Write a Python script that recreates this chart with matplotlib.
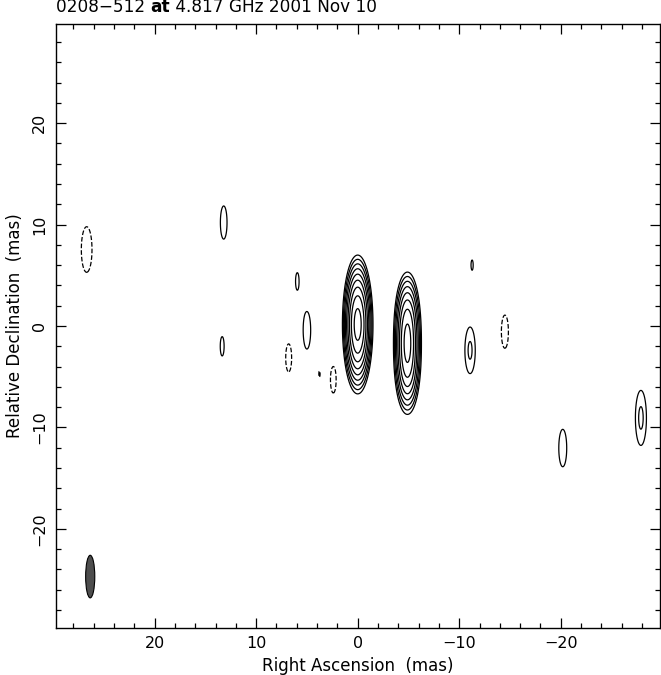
import numpy as np
import matplotlib
matplotlib.use("Agg")
import matplotlib.pyplot as plt
from matplotlib.patches import Ellipse
from matplotlib.ticker import MultipleLocator

# ---- model components (RA mas, Dec mas, peak in units of lowest contour, sigma_x, sigma_y)
comp_ra   = [0.0, -4.9, -4.9, -4.9, 13.2, 13.35, 5.95, 5.0, 26.7, 6.8, 3.77, 2.4, -11.27, -14.5, -11.07, -20.2, -27.9]
comp_dec  = [0.15, 0.0, -1.7, -3.4, 10.2, -2.0, 4.4, -0.43, 7.54, -3.14, -4.72, -5.3, 6.0, -0.56, -2.4, -12.03, -9.06]
comp_flux = [347.0, 75.0, 75.0, 75.0, 1.51, 1.15, 1.12, 1.69, -2.18, -1.34, -1.012, -1.3, 1.04, -1.51, 2.25, 1.69, 2.3]
comp_sx   = [0.44, 0.43, 0.43, 0.43, 0.36, 0.36, 0.36, 0.36, 0.42, 0.38, 0.38, 0.38, 0.38, 0.38, 0.40, 0.38, 0.42]
comp_sy   = [2.0, 1.8, 1.8, 1.8, 1.8, 1.8, 1.8, 1.8, 1.8, 1.8, 1.8, 1.8, 1.8, 1.8, 1.8, 1.8, 2.1]

contour_levels = [-1, 1, 2, 4, 8, 16, 32, 64, 128, 256]

beam_ra, beam_dec = 26.35, -24.7
beam_minor, beam_major, beam_pa = 0.9, 4.2, 0.0

title_parts = ["0208\u2212512 ", "at", " 4.817 GHz 2001 Nov 10"]
xlabel = "Right Ascension  (mas)"
ylabel = "Relative Declination  (mas)"

# ---- build image
gx = np.arange(-30.0, 30.0, 0.04)
gy = np.arange(-30.0, 30.0, 0.04)
X, Y = np.meshgrid(gx, gy)
Z = np.zeros_like(X)
for ra, dec, f, sx, sy in zip(comp_ra, comp_dec, comp_flux, comp_sx, comp_sy):
    Z += f * np.exp(-((X - ra) ** 2 / (2 * sx ** 2) + (Y - dec) ** 2 / (2 * sy ** 2)))

fig = plt.figure(figsize=(6.61, 6.75), dpi=100)
W, H = 661, 675
left, right, top, bottom = 55.7, 660, 24, 628
ax = fig.add_axes([left / W, (H - bottom) / H, (right - left) / W, (bottom - top) / H])

styles = ['dashed' if l < 0 else 'solid' for l in contour_levels]
ax.contour(X, Y, Z, levels=contour_levels, colors='black', linewidths=0.9,
           linestyles=styles)

ax.add_patch(Ellipse((beam_ra, beam_dec), width=beam_minor, height=beam_major,
                     angle=beam_pa, facecolor='#4d4d4d', edgecolor='black', lw=0.8))

ax.set_xlim(29.75, -29.78)
ax.set_ylim(-29.77, 29.77)
ax.xaxis.set_major_locator(MultipleLocator(10))
ax.xaxis.set_minor_locator(MultipleLocator(2))
ax.yaxis.set_major_locator(MultipleLocator(10))
ax.yaxis.set_minor_locator(MultipleLocator(2))
ax.tick_params(which='both', direction='in', top=True, right=True, width=0.9,
               labelsize=11.5, colors='black')
ax.tick_params(which='major', length=7)
ax.tick_params(which='minor', length=3.5)
ax.tick_params(axis='x', pad=6)
ax.tick_params(axis='y', pad=6)
for lab in ax.get_yticklabels():
    lab.set_rotation(90)
    lab.set_va('center')
for s in ax.spines.values():
    s.set_linewidth(1.0)

ax.set_xlabel(xlabel, fontsize=12, labelpad=4)
ax.set_ylabel(ylabel, fontsize=12, labelpad=6)

# title with bold "at"
fig.canvas.draw()
renderer = fig.canvas.get_renderer()
xpos = left / W
ypos = 1 - 7.5 / H
for i, part in enumerate(title_parts):
    t = fig.text(xpos, ypos, part, fontsize=12.2, va='center', ha='left',
                 fontweight='bold' if part == "at" else 'normal')
    bb = t.get_window_extent(renderer)
    xpos += bb.width / W

fig.savefig("out.png", dpi=100)
